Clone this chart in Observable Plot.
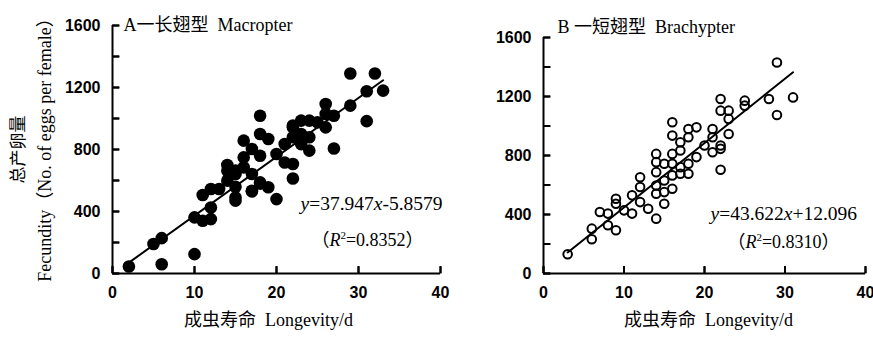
<!DOCTYPE html>
<html><head><meta charset="utf-8">
<script src="https://cdn.jsdelivr.net/npm/d3@7"></script>
<script src="https://cdn.jsdelivr.net/npm/@observablehq/plot@0.6"></script>
<style>
body{margin:0;background:#fff;}
#wrap{position:relative;width:873px;height:339px;overflow:hidden;background:#fff;}
#a{position:absolute;left:0;top:0}
#b{position:absolute;left:450px;top:0}
</style></head><body><div id="wrap"><div id="a"></div><div id="b"></div></div>
<script>
// Panel A — macropter (filled dots)
const macroLongevity = [2,5,6,6,10,10,11,11,12,12,12,13,14,14,14,15,15,15,15,15,16,16,16,17,17,17,17,18,18,18,18,18,19,19,20,20,21,21,22,22,22,22,22,23,23,23,24,24,24,25,26,26,26,27,27,29,29,31,31,32,33];
const macroFecundity = [45,190,228,60,125,362,340,506,351,426,545,545,663,599,700,491,470,642,665,560,857,749,685,642,534,803,530,1018,900,760,588,580,868,556,480,771,835,716,706,613,943,879,955,986,900,835,986,879,793,975,1094,1029,943,1018,806,1083,1290,1176,983,1290,1180];
// Panel B — brachypter (open circles)
const brachyLongevity = [3,6,6,7,8,8,9,9,9,10,11,11,12,12,12,13,14,14,14,14,14,14,15,15,15,15,16,16,16,16,16,16,17,17,17,17,18,18,18,18,19,19,20,21,21,21,22,22,22,22,22,23,23,23,25,25,28,29,29,31];
const brachyFecundity = [131,232,304,417,406,327,293,473,507,428,406,530,653,586,484,439,372,811,755,687,597,541,744,631,552,473,1025,935,811,744,665,575,890,834,721,676,980,924,744,676,991,789,868,980,924,822,1183,1104,868,845,703,1104,1048,946,1172,1138,1183,1431,1075,1194];

// Fitted regressions printed on the chart
const macroFit = [37.947, -5.8579];
const brachyFit = [43.622, 12.096];
const macroLineX = [2, 33];
const brachyLineX = [3, 31];

// Ticks
const xTicks = [0, 10, 20, 30, 40];
const yTicks = [0, 200, 400, 600, 800, 1000, 1200, 1400, 1600];
const yLabelTicks = [0, 400, 800, 1200, 1600];

// Texts
const titles = ["A一长翅型  Macropter", "B 一短翅型  Brachypter"];
const eqPlain = ["y=37.947x-5.8579", "y=43.622x+12.096"];
const r2Plain = ["（R2=0.8352）", "（R2=0.8310）"];
const eqMarkup = [
  '<tspan font-style="italic">y</tspan>=37.947<tspan font-style="italic">x</tspan>-5.8579',
  '<tspan font-style="italic">y</tspan>=43.622<tspan font-style="italic">x</tspan>+12.096'
];
const r2Markup = [
  '（<tspan font-style="italic">R</tspan><tspan dy="-7" font-size="11">2</tspan><tspan dy="7">=0.8352）</tspan>',
  '（<tspan font-style="italic">R</tspan><tspan dy="-7" font-size="11">2</tspan><tspan dy="7">=0.8310）</tspan>'
];
const xLabel = "成虫寿命  Longevity/d";
const yLabelCN = "总产卵量";
const yLabelEN = "Fecundity（No. of eggs per female）";

const serif = "'Liberation Serif','Times New Roman','Noto Sans CJK SC',serif";
const sans = "'Liberation Sans',Arial,sans-serif";

// inward tick glyphs used as dot symbols
const tickRight = {draw(ctx) { ctx.moveTo(0, 0); ctx.lineTo(7, 0); }};
const tickUp = {draw(ctx) { ctx.moveTo(0, 0); ctx.lineTo(0, -7); }};

function panel(o) {
  const pts = o.lon.map((x, i) => ({x, y: o.fec[i]}));
  const line = o.lineX.map(x => ({x, y: o.fit[0] * x + o.fit[1]}));
  const fw = o.width - o.ml - o.mr;
  const fh = 339 - o.mt - 66;
  const marks = [
    Plot.axisX({ticks: xTicks, tickSize: 0, tickPadding: 13, tickFormat: d => String(d), fontSize: 16, fontWeight: "bold", fontFamily: sans, label: null}),
    Plot.axisY({ticks: yLabelTicks, tickSize: 0, tickPadding: 12, tickFormat: d => String(d), fontSize: 16, fontWeight: "bold", fontFamily: sans, label: null}),
    Plot.ruleY([0], {strokeWidth: 2}),
    Plot.ruleX([0], {strokeWidth: 2}),
    Plot.ruleY(yTicks, {y: d => d, insetRight: fw - 7, stroke: "black", strokeWidth: 2}),
    Plot.ruleX(xTicks, {x: d => d, insetTop: fh - 7, stroke: "black", strokeWidth: 2}),
    Plot.dot(yTicks, {y: d => d, frameAnchor: "left", symbol: tickRight, r: 3, stroke: "black", fill: "none", strokeWidth: 2}),
    Plot.dot(xTicks, {x: d => d, frameAnchor: "bottom", symbol: tickUp, r: 3, stroke: "black", fill: "none", strokeWidth: 2}),
    Plot.line(line, {x: "x", y: "y", strokeWidth: 2}),
    o.filled
      ? Plot.dot(pts, {x: "x", y: "y", r: 6.3, fill: "black"})
      : Plot.dot(pts, {x: "x", y: "y", r: 4.3, stroke: "black", strokeWidth: 2, fill: "none"}),
    Plot.text([o.title], {text: d => d, frameAnchor: "top-left", dx: o.titleDx, dy: o.titleDy, textAnchor: "start", lineAnchor: "middle", fontSize: 18, fontFamily: serif}),
    Plot.text([o.eqPlain], {text: d => d, frameAnchor: "top-left", dx: o.eqDx, dy: o.eqDy, textAnchor: "start", lineAnchor: "middle", fontSize: 19.5, fontFamily: serif, className: "eq"}),
    Plot.text([o.r2Plain], {text: d => d, frameAnchor: "top-left", dx: o.r2Dx, dy: o.r2Dy, textAnchor: "middle", lineAnchor: "middle", fontSize: 18, fontFamily: serif, className: "r2"}),
    Plot.text([xLabel], {text: d => d, frameAnchor: "bottom", dx: o.xlDx, dy: 47, textAnchor: "middle", lineAnchor: "middle", fontSize: 18, fontFamily: serif})
  ];
  if (o.ylabel) {
    marks.push(Plot.text([yLabelCN], {text: d => d, frameAnchor: "left", dx: -94, dy: 0, rotate: -90, textAnchor: "middle", lineAnchor: "middle", fontSize: 17, fontFamily: serif, fill: "black"}));
    marks.push(Plot.text([yLabelEN], {text: d => d, frameAnchor: "left", dx: -67, dy: -4, rotate: -90, textAnchor: "middle", lineAnchor: "middle", fontSize: 18, fontFamily: serif, fill: "black"}));
  }
  const svg = Plot.plot({
    width: o.width, height: 339,
    marginLeft: o.ml, marginRight: o.mr, marginTop: o.mt, marginBottom: 66,
    x: {domain: [0, 40], label: null},
    y: {domain: [0, 1600], label: null},
    style: {background: "white", color: "black", overflow: "visible"},
    marks
  });
  d3.select(svg).select("g.eq text").html(o.eq);
  d3.select(svg).select("g.r2 text").html(o.r2);
  return svg;
}

document.getElementById("a").appendChild(panel({
  lon: macroLongevity, fec: macroFecundity, lineX: macroLineX, fit: macroFit, filled: true,
  title: titles[0], eq: eqMarkup[0], r2: r2Markup[0], eqPlain: eqPlain[0], r2Plain: r2Plain[0], ylabel: true,
  width: 450, ml: 112, mr: 10, mt: 25,
  titleDx: 11, titleDy: 0, eqDx: 188, eqDy: 178, r2Dx: 255, r2Dy: 215, xlDx: -8
}));
document.getElementById("b").appendChild(panel({
  lon: brachyLongevity, fec: brachyFecundity, lineX: brachyLineX, fit: brachyFit, filled: false,
  title: titles[1], eq: eqMarkup[1], r2: r2Markup[1], eqPlain: eqPlain[1], r2Plain: r2Plain[1], ylabel: false,
  width: 423, ml: 93, mr: 8, mt: 37,
  titleDx: 14, titleDy: -10, eqDx: 167, eqDy: 176, r2Dx: 240, r2Dy: 205, xlDx: 4
}));
</script></body></html>
